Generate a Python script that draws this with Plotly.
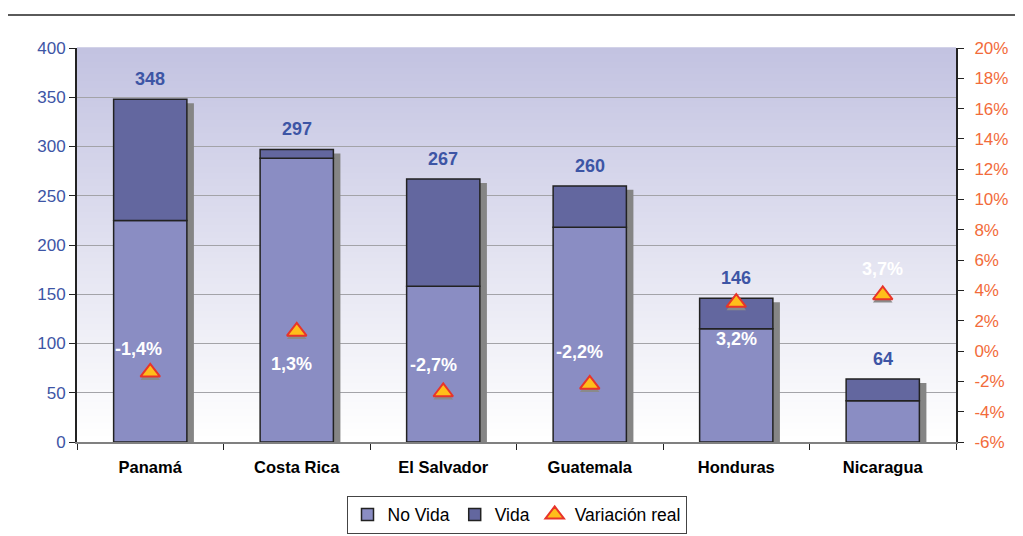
import plotly.graph_objects as go

paises = ["Panamá", "Costa Rica", "El Salvador", "Guatemala", "Honduras", "Nicaragua"]
no_vida = [225, 288, 158, 218, 115, 42]
vida = [123, 9, 109, 42, 31, 22]
totales = [348, 297, 267, 260, 146, 64]
variacion = [-1.4, 1.3, -2.7, -2.2, 3.2, 3.7]
etiquetas_var = ["-1,4%", "1,3%", "-2,7%", "-2,2%", "3,2%", "3,7%"]
y2_ticks = list(range(-6, 21, 2))
y2_ticktext = [f"{v}%" for v in y2_ticks]

# label offsets (pixels) for variation labels, style only
var_dx = [-12, -5, -10, -10, 0, 0]
var_dy = [23, -33, 27, 32, -36, 26]

FONT = "Liberation Sans, Arial, sans-serif"
C_NOVIDA = "#8A8DC3"
C_VIDA = "#63679F"
C_BLUE = "#3D55A5"
C_ORANGE = "#F26B3A"

fig = go.Figure()

# bar shadows
fig.add_trace(go.Bar(x=paises, y=totales, base=[-4] * len(paises), width=0.5, offset=-0.25 + 0.048,
                     marker=dict(color="#858585", line=dict(width=0)),
                     showlegend=False, hoverinfo="skip"))
fig.add_trace(go.Bar(x=paises, y=no_vida, name="No Vida", width=0.5, offset=-0.25,
                     marker=dict(color=C_NOVIDA, line=dict(color="#222222", width=1.5))))
fig.add_trace(go.Bar(x=paises, y=vida, base=no_vida, name="Vida", width=0.5, offset=-0.25,
                     marker=dict(color=C_VIDA, line=dict(color="#222222", width=1.5))))

# triangle shadows
fig.add_trace(go.Scatter(x=paises, y=[v - 0.22 for v in variacion], yaxis="y2", mode="markers",
                         marker=dict(symbol="triangle-up", size=17, color="#8A8A8A",
                                     line=dict(width=0)),
                         showlegend=False, hoverinfo="skip"))
fig.add_trace(go.Scatter(x=paises, y=variacion, yaxis="y2", mode="markers", name="Variación real",
                         marker=dict(symbol="triangle-up", size=17, color="#FFBE1A",
                                     line=dict(color="#E8342A", width=2))))

annotations = []
for p, t in zip(paises, totales):
    annotations.append(dict(x=p, y=t, xref="x", yref="y", text=f"<b>{t}</b>", showarrow=False,
                            yshift=20, font=dict(family=FONT, size=18, color=C_BLUE)))
for p, v, lab, dx, dy in zip(paises, variacion, etiquetas_var, var_dx, var_dy):
    annotations.append(dict(x=p, y=v, xref="x", yref="y2", text=f"<b>{lab}</b>", showarrow=False,
                            xshift=dx, yshift=dy, font=dict(family=FONT, size=18, color="white")))

# gradient background
shapes = []
n = 60
top = (195, 195, 225)
bot = (255, 255, 255)
for i in range(n):
    f = i / (n - 1)
    c = tuple(round(bot[k] + (top[k] - bot[k]) * f) for k in range(3))
    shapes.append(dict(type="rect", xref="x domain", yref="y domain", x0=0, x1=1,
                       y0=i / n, y1=(i + 1) / n + 0.002, fillcolor=f"rgb{c}",
                       line=dict(width=0), layer="below"))
shapes.append(dict(type="line", xref="paper", yref="paper", x0=-0.0785, x1=1.08, y0=1.084, y1=1.084,
                   line=dict(color="#5A5A5A", width=2)))

fig.update_layout(
    width=1015, height=528,
    margin=dict(l=69, r=67, t=40, b=94, autoexpand=False),
    paper_bgcolor="white", plot_bgcolor="white",
    barmode="overlay", bargap=0.5,
    font=dict(family=FONT, size=16),
    xaxis=dict(type="category", showgrid=False, ticks="outside", tickson="boundaries", ticklen=6,
               tickcolor="#222", showline=True, linecolor="#808080", linewidth=2, automargin=False,
               ticklabelstandoff=9,
               tickfont=dict(family=FONT, size=16.5, color="black", weight="bold")),
    yaxis=dict(range=[0, 400], dtick=50, showgrid=True, gridcolor="#A3A3A8", gridwidth=1.2,
               showline=True, linecolor="#222", linewidth=2, ticks="outside", ticklen=6,
               tickcolor="#222", tickfont=dict(color=C_BLUE, size=17), zeroline=False,
               automargin=False),
    yaxis2=dict(range=[-6, 20], overlaying="y", side="right", tickvals=y2_ticks, ticktext=y2_ticktext,
                showgrid=False, showline=True, linecolor="#222", linewidth=2, ticks="outside",
                ticklen=6, tickcolor="#222", tickfont=dict(color=C_ORANGE, size=17), zeroline=False,
                automargin=False, ticklabelstandoff=7),
    legend=dict(orientation="h", x=0.5, xanchor="center", y=-0.136, yanchor="top",
                bordercolor="#444", borderwidth=1, bgcolor="white",
                font=dict(family=FONT, size=17.5, color="black"), itemwidth=30,
                traceorder="normal"),
    annotations=annotations,
    shapes=shapes,
)

fig.write_html("out.html")
